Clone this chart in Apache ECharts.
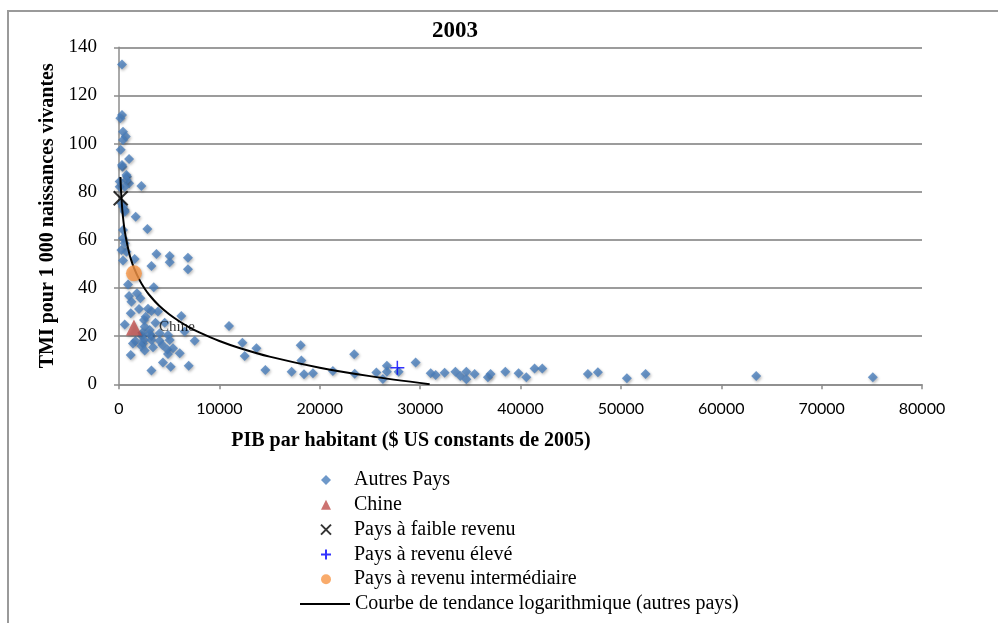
<!DOCTYPE html>
<html>
<head>
<meta charset="utf-8">
<script src="https://cdn.jsdelivr.net/npm/echarts@6/dist/echarts.min.js"></script>
<style>
html,body{margin:0;padding:0;background:#fff;}
#chart{width:998px;height:623px;}
</style>
</head>
<body>
<div id="chart"></div>
<script>
// ---- Data ----
const chartTitle = '2003';
const xAxisTitle = 'PIB par habitant ($ US constants de 2005)';
const yAxisTitle = 'TMI pour 1 000 naissances vivantes';
const xTicks = {min: 0, max: 80000, interval: 10000};
const yTicks = {min: 0, max: 140, interval: 20};

// Autres Pays: [PIB par habitant, TMI]
const autresPaysGDP = [
  300, 300, 140, 400, 670, 400, 170, 1000, 340, 800, 1000, 2230, 70, 240, 570, 1660, 2830, 400, 400, 240,
  740, 3730, 5050, 5050, 6870, 6870, 1560, 3230, 400, 300, 740, 740, 70, 570, 400, 570, 570,
  900, 3460, 1000, 1790, 2130, 1240, 1990, 2890, 3230, 3880, 1170, 6210, 2660, 2490, 3630, 4550, 570,
  2560, 3060, 2330, 3230, 2290, 3060, 4050, 4880, 6540, 5050, 1630, 2490, 3230, 4050, 7540, 1390, 2390,
  2230, 3390, 4320, 4820, 5380, 2560, 4880, 6050, 1170, 4380, 5150, 6940, 3230,
  10960, 12290, 13690, 12520, 14580, 18100, 18170, 17200, 18430, 19320, 21310, 23430, 23480, 25640,
  26690, 26690, 26290, 27860, 29550, 31050, 31550, 32440, 33510, 34000, 34600, 34600, 35430, 36750,
  37020, 38490, 39810, 40580, 41400, 42170, 46710, 47710, 50600, 52460, 63480, 75100
];
const autresPaysTMI = [
  132.9, 111.9, 110.5, 104.9, 102.9, 101.5, 97.4, 93.6, 90.4, 86.2, 83.5, 82.4, 82.1, 75.2, 72.4, 69.6, 64.5, 64.1, 60.7, 55.8,
  55.1, 54.1, 53.3, 50.7, 52.6, 47.8, 52.1, 49.1, 51.4, 91.1, 87.0, 84.9, 84.2, 82.1, 73.8, 71.7, 58.6,
  41.5, 40.3, 36.7, 37.8, 35.7, 34.3, 31.3, 31.4, 30.5, 30.2, 29.5, 28.4, 28.1, 26.7, 25.6, 25.6, 24.8,
  23.9, 22.6, 21.4, 20.1, 20.1, 20.9, 21.2, 20.5, 21.9, 18.4, 18.0, 18.4, 18.4, 18.1, 18.1, 17.0, 17.0,
  15.9, 15.4, 16.3, 14.5, 15.0, 14.0, 12.6, 12.9, 12.2, 9.1, 7.3, 7.7, 5.7,
  24.2, 17.3, 15.0, 11.8, 5.9, 16.2, 9.9, 5.2, 4.2, 4.6, 5.5, 12.5, 4.4, 4.9,
  7.7, 5.2, 2.2, 5.2, 9.1, 4.6, 3.9, 4.8, 5.2, 3.4, 5.2, 2.1, 4.3, 2.9,
  4.3, 5.2, 4.6, 2.9, 6.6, 6.6, 4.3, 5.0, 2.5, 4.3, 3.4, 2.9
];

const chineGDP = [1490];
const chineTMI = [23.6];
const faibleGDP = [170];
const faibleTMI = [77.3];
const eleveGDP = [27730];
const eleveTMI = [6.9];
const intermediaireGDP = [1490];
const intermediaireTMI = [46.1];

// Logarithmic trend curve (autres pays)
const trendGDP = [140, 250, 400, 600, 1000, 1200, 1500, 2000, 2500, 3000, 4000, 5000, 6000, 7000, 8000, 10000, 12000, 15000, 20000, 25000, 30950];
const trendTMI = [86.1, 76.9, 69.4, 62.9, 54.7, 51.8, 48.3, 43.7, 40.1, 37.2, 32.6, 29.1, 26.2, 23.7, 21.6, 18.0, 15.1, 11.5, 6.9, 3.4, 0.0];

const seriesNames = ['Autres Pays', 'Chine', 'Pays à faible revenu', 'Pays à revenu élevé', 'Pays à revenu intermédiaire', 'Courbe de tendance logarithmique (autres pays)'];
const chinaLabel = 'Chine';

// ---- Build ----
function zip(xs, ys) { return xs.map((x, i) => [x, ys[i]]); }

const serif = '"Liberation Serif", "Times New Roman", serif';
const chart = echarts.init(document.getElementById('chart'));
const shadow = {shadowBlur: 3, shadowColor: 'rgba(0,0,0,0.35)', shadowOffsetX: 1, shadowOffsetY: 1.5};

chart.setOption({
  animation: false,
  backgroundColor: '#fff',
  title: [
    {text: chartTitle, left: 455, top: 20, textAlign: 'center', padding: 0,
     textStyle: {fontFamily: serif, fontWeight: 'bold', fontSize: 23, color: '#000'}},
    {text: xAxisTitle, left: 411, top: 431, textAlign: 'center', padding: 0,
     textStyle: {fontFamily: serif, fontWeight: 'bold', fontSize: 20, color: '#000'}}
  ],
  graphic: [{
    type: 'rect', silent: true, z: -10,
    shape: {x: 8, y: 11, width: 1200, height: 800},
    style: {fill: 'none', stroke: '#9a9a9a', lineWidth: 2}
  }],
  grid: {left: 119, right: 76, top: 47.3, bottom: 238.7, containLabel: false},
  xAxis: {
    type: 'value', min: xTicks.min, max: xTicks.max, interval: xTicks.interval,
    axisLine: {show: true, onZero: false, lineStyle: {color: '#8c8c8c', width: 1.5}},
    axisTick: {show: true, length: 5, lineStyle: {color: '#8c8c8c', width: 1.5}},
    axisLabel: {margin: 17, fontFamily: 'Lato, "Open Sans", sans-serif', fontSize: 16, color: '#000',
                formatter: v => String(v)},
    splitLine: {show: false}
  },
  yAxis: {
    type: 'value', min: yTicks.min, max: yTicks.max, interval: yTicks.interval,
    name: yAxisTitle, nameLocation: 'middle', nameGap: 61, nameRotate: 90,
    nameTextStyle: {fontFamily: serif, fontWeight: 'bold', fontSize: 20, color: '#000'},
    axisLine: {show: true, lineStyle: {color: '#8c8c8c', width: 1.5}},
    axisTick: {show: true, length: 5, lineStyle: {color: '#8c8c8c', width: 1.5}},
    axisLabel: {margin: 22, fontFamily: serif, fontSize: 19, color: '#000'},
    splitLine: {show: true, lineStyle: {color: '#9c9c9c', width: 2}}
  },
  legend: [
    {
      orient: 'vertical', left: 320, top: 470, padding: 0, itemWidth: 10, itemHeight: 10, itemGap: 4.8,
      data: seriesNames.slice(0, 5),
      textStyle: {fontFamily: serif, fontSize: 20, color: '#000', lineHeight: 20, padding: [0, 0, 0, 18]},
      selectedMode: false
    },
    {
      orient: 'vertical', left: 300, top: 594, padding: 0, itemWidth: 50, itemHeight: 2, itemGap: 5,
      data: [{name: seriesNames[5], icon: 'rect', itemStyle: {color: '#000', borderWidth: 0}}],
      textStyle: {fontFamily: serif, fontSize: 20, color: '#000', lineHeight: 20, padding: [0, 0, 0, 0]},
      selectedMode: false
    }
  ],
  series: [
    {
      name: seriesNames[5], type: 'line', data: zip(trendGDP, trendTMI),
      showSymbol: false, symbol: 'none', smooth: 0.3, z: 3,
      lineStyle: {color: '#000', width: 2}, itemStyle: {color: '#000'}
    },
    {
      name: seriesNames[0], type: 'scatter', data: zip(autresPaysGDP, autresPaysTMI),
      symbol: 'diamond', symbolSize: 10, z: 2,
      itemStyle: Object.assign({color: '#4a7ebb'}, shadow)
    },
    {
      name: seriesNames[1], type: 'scatter', data: zip(chineGDP, chineTMI),
      symbol: 'triangle', symbolSize: 16, z: 5,
      itemStyle: Object.assign({color: '#c0504d'}, shadow),
      label: {show: true, position: 'right', distance: 17, formatter: chinaLabel,
              fontFamily: serif, fontSize: 15, color: '#000'}
    },
    {
      name: seriesNames[2], type: 'scatter', data: zip(faibleGDP, faibleTMI),
      symbol: 'path://M0,0L10,10M10,0L0,10', symbolSize: 14, z: 5,
      itemStyle: {color: 'rgba(0,0,0,0)', borderColor: '#000', borderWidth: 2}
    },
    {
      name: seriesNames[3], type: 'scatter', data: zip(eleveGDP, eleveTMI),
      symbol: 'path://M5,0L5,10M0,5L10,5', symbolSize: 14, z: 5,
      itemStyle: {color: 'rgba(0,0,0,0)', borderColor: '#0000ff', borderWidth: 1.5}
    },
    {
      name: seriesNames[4], type: 'scatter', data: zip(intermediaireGDP, intermediaireTMI),
      symbol: 'circle', symbolSize: 16, z: 5,
      itemStyle: Object.assign({color: '#f79646'}, shadow)
    }
  ]
});
</script>
</body>
</html>
